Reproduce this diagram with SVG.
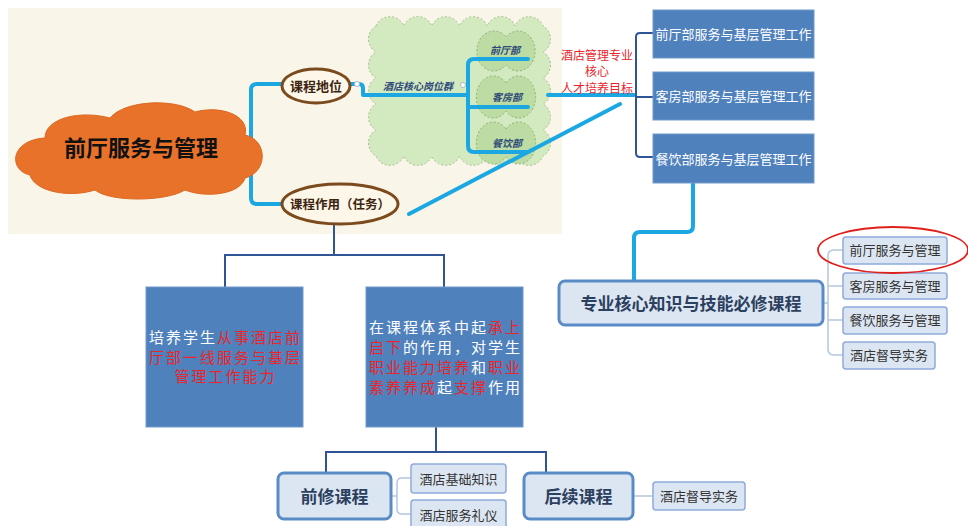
<svg xmlns="http://www.w3.org/2000/svg" width="968" height="526" viewBox="0 0 968 526">
<defs>
<style>
text{font-family:"Noto Sans CJK SC","Liberation Sans",sans-serif;text-anchor:middle}
.cy{fill:none;stroke:#1ba8e2;stroke-width:4;stroke-linecap:round;stroke-linejoin:round}
.db{fill:none;stroke:#2f5597;stroke-width:2}
.lt{fill:none;stroke:#b4c6dc;stroke-width:1.5}
.ell{fill:#fcf7e8;stroke:#7b4a1d;stroke-width:3}
.elt{font-weight:bold;fill:#3d2410}
.dept{font-size:10px;font-style:italic;font-weight:bold;fill:#2e4a7a}
.blob{fill:#bcdca3;stroke:#8fb07a;stroke-width:1;stroke-dasharray:2 2}
.bb{fill:#4f81bd;stroke:#7299c9;stroke-width:1}
.wt{font-size:13px;fill:#ffffff}
.rb{fill:#dce6f2;stroke:#5b8bc6;stroke-width:3}
.rbt{font-weight:bold;fill:#2b3f5e}
.sb{fill:#dce6f2;stroke:#8eaadb;stroke-width:1.5}
.sbt{font-size:13px;fill:#333333}
.r{fill:#e8262b}
.w{fill:#ffffff}
</style>
</defs>
<rect x="0" y="0" width="968" height="526" fill="#ffffff"/>
<rect x="8" y="8" width="554" height="226" fill="#f9f5e8"/>
<g id="green-group">
<path d="M376,26 A15,15 0 0 1 403.8,26 A15,15 0 0 1 431.7,26 A15,15 0 0 1 459.5,26 A15,15 0 0 1 487.3,26 A15,15 0 0 1 515.2,26 A15,15 0 0 1 543,26 A15,15 0 0 1 543,52 A15,15 0 0 1 543,78 A15,15 0 0 1 543,104 A15,15 0 0 1 543,130 A15,15 0 0 1 543,156 A15,15 0 0 1 515.2,156 A15,15 0 0 1 487.3,156 A15,15 0 0 1 459.5,156 A15,15 0 0 1 431.7,156 A15,15 0 0 1 403.8,156 A15,15 0 0 1 376,156 A15,15 0 0 1 376,130 A15,15 0 0 1 376,104 A15,15 0 0 1 376,78 A15,15 0 0 1 376,52 A15,15 0 0 1 376,26 Z" fill="#d3e9bf" stroke="#a3bf8f" stroke-width="1" stroke-dasharray="2 2"/>
<path class="blob" d="M506,37 A17,20 0 1 1 506,65 A17,20 0 1 1 506,37 Z"/>
<path class="blob" d="M506,83 A17,21 0 1 1 506,111 A17,21 0 1 1 506,83 Z"/>
<path class="blob" d="M506,129 A17,21 0 1 1 506,157 A17,21 0 1 1 506,129 Z"/>
</g>
<g id="connectors">
<path class="cy" d="M282,84 H257 Q251,84 251,90 V198 Q251,204 257,204 H283"/>
<path class="cy" d="M350,84 H359 Q363,84 363,88 V95 H468"/>
<path class="cy" d="M528,59 H474 Q468,59 468,65 V146 Q468,152 474,152 H528 M468,107 H528"/>
<path class="cy" d="M548,95 H634"/>
<path class="cy" d="M409,214 L620,104"/>
<path class="cy" d="M693,183 V226 Q693,232 687,232 H640 Q634,232 634,238 V281"/>
<path class="db" d="M653,33 H640 Q636,33 636,37 V153 Q636,157 640,157 H653 M636,97 H653"/>
<path class="db" d="M334,225 V255 M225,287 V255 H444 V287"/>
<path class="db" d="M436,427 V452 M326,473 V452 H546 V473"/>
<path class="lt" d="M823,303 H828 M843,250 H834 Q828,250 828,256 V349 Q828,355 834,355 H843 M828,286 H843 M828,320 H843"/>
<path class="lt" d="M391,496 H397 M411,478 H402 Q397,478 397,483 V509 Q397,514 402,514 H411"/>
<path class="lt" d="M633,496 H653"/>
<circle cx="357" cy="84" r="2.5" fill="#ffffff" stroke="#b0b8c0" stroke-width="1"/>
<circle cx="463" cy="85" r="2.5" fill="#ffffff" stroke="#b0b8c0" stroke-width="1"/>
</g>
<g id="main-cloud">
<path d="M30,175 C8,170 10,140 45,138 C45,118 80,110 110,118 C125,100 175,98 195,112 C220,105 250,115 245,135 C268,140 268,172 245,178 C240,195 205,198 185,190 C165,202 110,202 95,190 C70,198 35,192 30,175 Z" fill="#e9722a" stroke="#dc6820" stroke-width="1"/>
<text x="141" y="156" font-size="22" font-weight="bold" fill="#111111">前厅服务与管理</text>
</g>
<g id="kc-diwei">
<ellipse class="ell" cx="316" cy="86" rx="34" ry="17"/>
<text class="elt" x="316" y="91" font-size="13">课程地位</text>
</g>
<g id="kc-zuoyong">
<ellipse class="ell" cx="340" cy="204" rx="58" ry="20"/>
<text class="elt" x="340" y="209" font-size="12.5">课程作用（任务）</text>
</g>
<g id="hexin-gangwei">
<text class="dept" x="418" y="90">酒店核心岗位群</text>
<text class="dept" x="505" y="54">前厅部</text>
<text class="dept" x="507" y="101">客房部</text>
<text class="dept" x="507" y="147">餐饮部</text>
</g>
<g id="mubiao">
<text font-size="12" class="r"><tspan x="597" y="59.5">酒店管理专业</tspan><tspan x="597" y="76">核心</tspan><tspan x="597" y="92.5">人才培养目标</tspan></text>
</g>
<g id="box-qianting">
<rect class="bb" x="653" y="10" width="161" height="48"/>
<text class="wt" x="733.5" y="39">前厅部服务与基层管理工作</text>
</g>
<g id="box-kefang">
<rect class="bb" x="653" y="72" width="161" height="48"/>
<text class="wt" x="733.5" y="101">客房部服务与基层管理工作</text>
</g>
<g id="box-canyin">
<rect class="bb" x="653" y="134" width="161" height="49"/>
<text class="wt" x="733.5" y="163.5">餐饮部服务与基层管理工作</text>
</g>
<g id="hexin-kecheng">
<rect class="rb" x="559" y="281" width="264" height="44" rx="6"/>
<text class="rbt" x="691" y="309.5" font-size="17">专业核心知识与技能必修课程</text>
</g>
<g id="c-qianting">
<rect class="sb" x="843" y="237" width="104" height="27" rx="3"/>
<text class="sbt" x="895" y="255">前厅服务与管理</text>
</g>
<g id="c-kefang">
<rect class="sb" x="843" y="273" width="104" height="26" rx="3"/>
<text class="sbt" x="895" y="290.5">客房服务与管理</text>
</g>
<g id="c-canyin">
<rect class="sb" x="843" y="307" width="104" height="27" rx="3"/>
<text class="sbt" x="895" y="325">餐饮服务与管理</text>
</g>
<g id="c-dudao">
<rect class="sb" x="843" y="342" width="92" height="27" rx="3"/>
<text class="sbt" x="889" y="360">酒店督导实务</text>
</g>
<ellipse id="highlight" cx="893" cy="250" rx="75" ry="23" fill="none" stroke="#e0201c" stroke-width="1.8"/>
<g id="task-left">
<rect class="bb" x="146" y="287" width="157" height="140"/>
<text font-size="15" letter-spacing="2"><tspan x="225.5" y="343" class="w">培养学生</tspan><tspan class="r">从事酒店前</tspan><tspan x="225.5" y="363" class="r">厅部一线服务与基层</tspan><tspan x="225.5" y="382" class="r">管理工作能力</tspan></text>
</g>
<g id="task-right">
<rect class="bb" x="366" y="287" width="157" height="140"/>
<text font-size="15" letter-spacing="2"><tspan x="445.5" y="333" class="w">在课程体系中起</tspan><tspan class="r">承上</tspan><tspan x="445.5" y="353" class="r">启下</tspan><tspan class="w">的作用，对学生</tspan><tspan x="445.5" y="373" class="r">职业能力培养</tspan><tspan class="w">和</tspan><tspan class="r">职业</tspan><tspan x="445.5" y="393" class="r">素养养成</tspan><tspan class="w">起</tspan><tspan class="r">支撑</tspan><tspan class="w">作用</tspan></text>
</g>
<g id="qianxiu">
<rect class="rb" x="278" y="473" width="113" height="46" rx="6"/>
<text class="rbt" x="334.5" y="502.5" font-size="17">前修课程</text>
</g>
<g id="houxu">
<rect class="rb" x="524" y="473" width="109" height="46" rx="6"/>
<text class="rbt" x="578.5" y="502.5" font-size="17">后续课程</text>
</g>
<g id="p-jichu">
<rect class="sb" x="411" y="464" width="95" height="29" rx="3"/>
<text class="sbt" x="458.5" y="483.5">酒店基础知识</text>
</g>
<g id="p-liyi">
<rect class="sb" x="411" y="500" width="95" height="30" rx="3"/>
<text class="sbt" x="458.5" y="520">酒店服务礼仪</text>
</g>
<g id="h-dudao">
<rect class="sb" x="653" y="482" width="92" height="28" rx="3"/>
<text class="sbt" x="699" y="501">酒店督导实务</text>
</g>
</svg>
